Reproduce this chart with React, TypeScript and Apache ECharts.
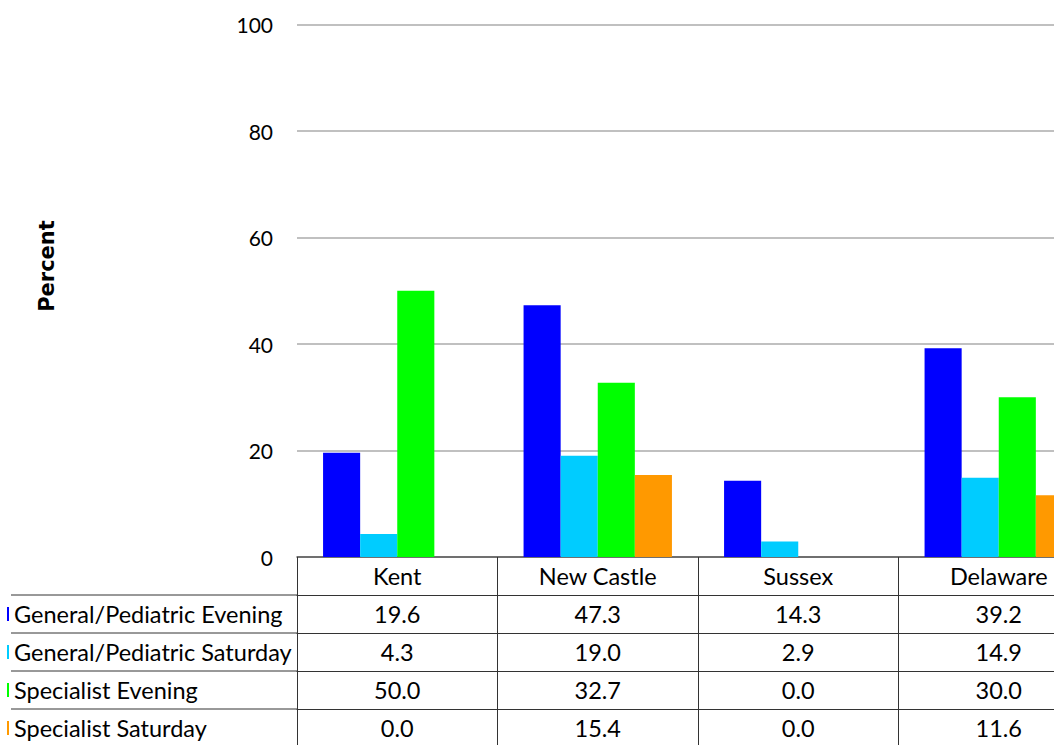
import React, { useEffect, useRef } from "react";
import * as echarts from "echarts";

const categories = ["Kent", "New Castle", "Sussex", "Delaware"];
const seriesNames = [
  "General/Pediatric Evening",
  "General/Pediatric Saturday",
  "Specialist Evening",
  "Specialist Saturday",
];
const genEvening = [19.6, 47.3, 14.3, 39.2];
const genSaturday = [4.3, 19.0, 2.9, 14.9];
const specEvening = [50.0, 32.7, 0.0, 30.0];
const specSaturday = [0.0, 15.4, 0.0, 11.6];
const seriesColors = ["#0000FF", "#00CCFF", "#00FF00", "#FF9900"];
const yMin = 0;
const yMax = 100;
const yInterval = 20;

const FONT = "Lato";
const TABLE_FS = 23.5;
const ROW_H = 38;
const GRID_LEFT = 297;
const GRID_TOP = 24.5;
const AXIS_Y = 557;

export default function App() {
  const ref = useRef<HTMLDivElement>(null);
  useEffect(() => {
    if (!ref.current) return;
    const chart = echarts.init(ref.current, undefined, { renderer: "svg" });
    const rows = [genEvening, genSaturday, specEvening, specSaturday];
    const lineColor = "#333";
    const xAxes: any[] = [
      {
        type: "category",
        data: categories,
        position: "bottom",
        offset: 0,
        axisLine: { show: true, lineStyle: { color: "#555", width: 1.5 } },
        axisTick: {
          show: true,
          interval: 0,
          alignWithLabel: false,
          length: 200,
          lineStyle: { color: lineColor, width: 1 },
        },
        axisLabel: {
          margin: ROW_H / 2,
          verticalAlign: "middle",
          color: "#000",
          fontFamily: FONT,
          fontSize: TABLE_FS,
          interval: 0,
        },
      },
    ];
    rows.forEach((vals, k) => {
      xAxes.push({
        type: "category",
        data: categories,
        position: "bottom",
        offset: ROW_H * (k + 1),
        axisLine: { show: true, lineStyle: { color: lineColor, width: 1 } },
        axisTick: { show: false },
        axisLabel: {
          margin: ROW_H / 2,
          verticalAlign: "middle",
          color: "#000",
          fontFamily: FONT,
          fontSize: TABLE_FS,
          interval: 0,
          formatter: (_v: string, i: number) => vals[i].toFixed(1),
        },
      });
    });

    const leftLines = rows.map((_, k) => ({
      type: "line",
      shape: {
        x1: 11,
        y1: AXIS_Y + ROW_H * (k + 1),
        x2: GRID_LEFT,
        y2: AXIS_Y + ROW_H * (k + 1),
      },
      style: { stroke: lineColor, lineWidth: 1 },
    }));

    chart.setOption({
      animation: false,
      grid: {
        left: GRID_LEFT,
        top: GRID_TOP,
        right: 1,
        bottom: 745 - AXIS_Y,
        containLabel: false,
      },
      legend: {
        orient: "vertical",
        left: 7,
        top: AXIS_Y + ROW_H + ROW_H / 2 - 12,
        padding: 0,
        itemGap: ROW_H - 24,
        itemWidth: 2,
        itemHeight: 14,
        icon: "rect",
        data: seriesNames,
        textStyle: {
          color: "#000",
          fontFamily: FONT,
          fontSize: TABLE_FS,
          lineHeight: 24,
        },
      },
      xAxis: xAxes,
      yAxis: {
        type: "value",
        min: yMin,
        max: yMax,
        interval: yInterval,
        axisLine: { show: false },
        axisTick: { show: false },
        splitLine: { show: true, lineStyle: { color: "#C0C0C0", width: 2 } },
        axisLabel: {
          margin: 24,
          color: "#000",
          fontFamily: FONT,
          fontSize: 21,
        },
      },
      graphic: [
        {
          type: "text",
          x: 47,
          y: 266,
          rotation: Math.PI / 2,
          style: {
            text: "Percent",
            font: 'bold 21px "DejaVu Sans"',
            fill: "#000",
            align: "center",
            verticalAlign: "middle",
          },
        },
        ...leftLines,
      ],
      series: rows.map((vals, i) => ({
        name: seriesNames[i],
        type: "bar",
        xAxisIndex: 0,
        data: vals,
        barGap: "0%",
        barCategoryGap: "26%",
        itemStyle: { color: seriesColors[i] },
      })),
    });
    return () => chart.dispose();
  }, []);
  return (
    <div
      style={{
        position: "fixed",
        left: 0,
        top: 0,
        width: 1054,
        height: 745,
        overflow: "hidden",
        background: "#fff",
      }}
    >
      <div ref={ref} style={{ width: 1100, height: 745 }} />
    </div>
  );
}
